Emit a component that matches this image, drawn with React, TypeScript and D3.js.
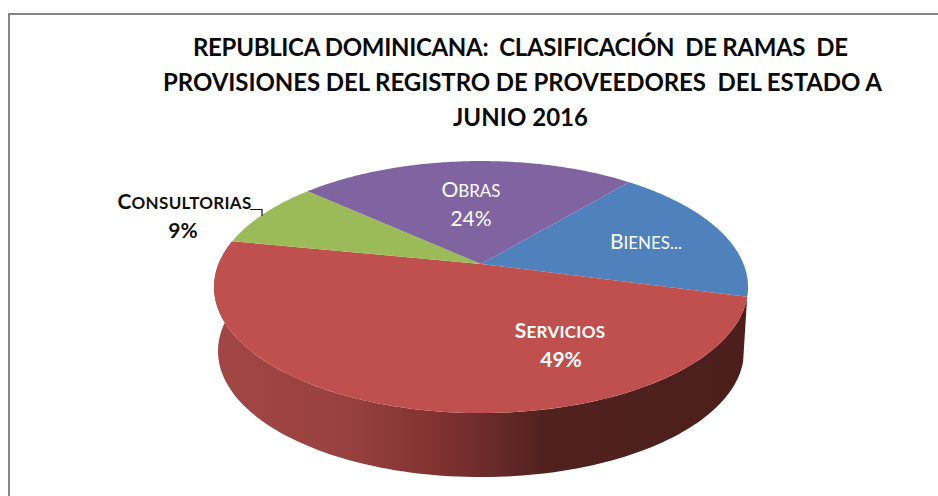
import * as d3 from "d3";

const W = 938;
const H = 496;

const categories = ["Bienes...", "Servicios", "Consultorias", "Obras"];
const shares = [18, 49, 8.6, 24.4];
const percentLabels = ["", "49%", "9%", "24%"];
const sliceColors = ["#4f81bd", "#c0504d", "#9bbb59", "#8064a2"];
const titleLines = [
  "REPUBLICA DOMINICANA:  CLASIFICACIÓN  DE RAMAS  DE",
  "PROVISIONES DEL REGISTRO DE PROVEEDORES  DEL ESTADO A",
  "JUNIO 2016",
];

// tilted circle: apex sits above the middle of the ellipse, like excel's 3d pie
const cx = 481;
const cy = 264;
const tilt = 0.183;
const radiusX = 262.5;
const radiusY = 121.8;
const depth = 64;

const project = (angle: number, r = 1): [number, number] => {
  const x = Math.sin(angle) * r;
  const u = -Math.cos(angle) * r;
  const w = 1 - tilt * u;
  return [cx + (radiusX * x) / w, cy + (radiusY * u) / w];
};

const pie = d3
  .pie<number>()
  .sort(null)
  .value((d) => d)
  .startAngle((40 * Math.PI) / 180)
  .endAngle((400 * Math.PI) / 180);

const slices = pie(shares);
const line = d3.line();

const rim = (a0: number, a1: number) =>
  d3.range(0, 121).map((i) => project(a0 + ((a1 - a0) * i) / 120));

const slicePath = (a0: number, a1: number) =>
  line([[cx, cy], ...rim(a0, a1)]) + "Z";

// side wall: front part of the rim and the same curve moved down
const wallTop = rim((105 * Math.PI) / 180, (281 * Math.PI) / 180);
const wallBottom = wallTop
  .map(([x, y]): [number, number] => [cx + (x - cx) * 0.985, y + depth])
  .reverse();
const wallPath = line([...wallTop, ...wallBottom]) + "Z";

const sideStops = [
  { at: 0, color: "#a34644" },
  { at: 0.25, color: "#974140" },
  { at: 0.42, color: "#803231" },
  { at: 0.52, color: "#6a2b29" },
  { at: 0.62, color: "#51211f" },
  { at: 1, color: "#4c1f1c" },
];

const font = "Lato, 'Open Sans', sans-serif";

// excel's small caps are bigger than the synthesized ones, so do them by hand
function SmallCaps({ text, x, y, bold, fill, spacing = 0 }: any) {
  const upper = text.toUpperCase();
  return (
    <text x={x} y={y} fontSize={21} fontWeight={bold ? 700 : 400} fill={fill} letterSpacing={spacing}>
      {upper[0]}
      <tspan fontSize={17}>{upper.slice(1)}</tspan>
    </text>
  );
}

export default function App() {
  return (
    <svg
      width={W}
      height={H}
      viewBox={`0 0 ${W} ${H}`}
      style={{ position: "absolute", left: 0, top: 0, background: "#fff" }}
    >
      <defs>
        <linearGradient id="side" x1="0" x2="1" y1="0" y2="0">
          {sideStops.map((s) => (
            <stop key={s.at} offset={s.at} stopColor={s.color} />
          ))}
        </linearGradient>
      </defs>

      <path d={`M9 496V14H938`} fill="none" stroke="#868686" strokeWidth={2} />

      {titleLines.map((t, i) => (
        <text
          key={t}
          x={[520.5, 522.5, 520.5][i]}
          y={[56, 91, 126][i]}
          textAnchor="middle"
          textLength={[655, 719, 135][i]}
          lengthAdjust="spacing"
          fontFamily={font}
          fontWeight={700}
          fontSize={24}
          fill="#0a0a0a"
          style={{ whiteSpace: "pre" }}
        >
          {t}
        </text>
      ))}

      <path d={wallPath} fill="url(#side)" />
      {slices.map((s, i) => (
        <path key={categories[i]} d={slicePath(s.startAngle, s.endAngle)} fill={sliceColors[i]} />
      ))}

      {/* leader line of the outside label */}
      <path d="M250 209.5H262V216" fill="none" stroke="#111" strokeWidth={1.2} />

      <g fontFamily={font} textAnchor="middle">
        <SmallCaps text={categories[2]} x={184.5} y={209} bold fill="#111" spacing={0.3} />
        <text x={183} y={238} fontSize={21} fontWeight={700} fill="#111">
          {percentLabels[2]}
        </text>
        <SmallCaps text={categories[3]} x={471} y={197} fill="#fff" />
        <text x={471} y={226} fontSize={21} fill="#fff">
          {percentLabels[3]}
        </text>
        <SmallCaps text={categories[0]} x={646} y={249} fill="#fff" />
        <SmallCaps text={categories[1]} x={560} y={338} bold fill="#fff" spacing={0.3} />
        <text x={561} y={367} fontSize={21} fontWeight={700} fill="#fff">
          {percentLabels[1]}
        </text>
      </g>
    </svg>
  );
}
